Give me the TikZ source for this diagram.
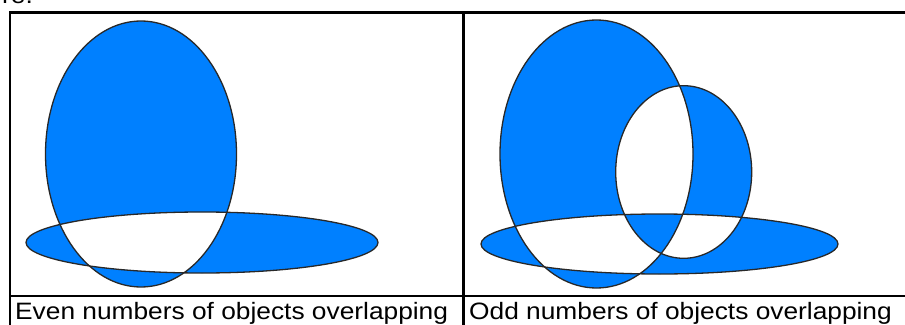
\documentclass[tikz,border=0pt]{standalone}
\usepackage{fontspec}
\setmainfont{Liberation Sans}
\usepackage{graphicx}
\definecolor{fillblue}{RGB}{0,128,255}
\definecolor{edge}{RGB}{40,40,40}
\tikzset{
  tableline/.style={line width=2.5pt, black},
  shapeline/.style={line width=1.3pt, edge},
  caption/.style={anchor=base west, inner sep=0pt, font=\fontsize{23.7}{28}\selectfont}
}
\begin{document}
\begin{tikzpicture}[x=1pt,y=-1pt]
\useasboundingbox (0,0) rectangle (905,324);
% partial text from above, clipped by the page
\node[caption] (prev) at (2,4) {\scalebox{1.11}[1]{re.}};
% left cell shapes
\fill[fillblue, even odd rule] (141,154) ellipse [x radius=95.5, y radius=133]
  (202,242.5) ellipse [x radius=176, y radius=30.5];
\draw[shapeline] (141,154) ellipse [x radius=95.5, y radius=133];
\draw[shapeline] (202,242.5) ellipse [x radius=176, y radius=30.5];
% right cell shapes
\fill[fillblue, even odd rule] (596.5,154) ellipse [x radius=96.5, y radius=134]
  (659.5,244) ellipse [x radius=178.5, y radius=30]
  (683.7,172) ellipse [x radius=68, y radius=86.3];
\draw[shapeline] (596.5,154) ellipse [x radius=96.5, y radius=134];
\draw[shapeline] (659.5,244) ellipse [x radius=178.5, y radius=30];
\draw[shapeline] (683.7,172) ellipse [x radius=68, y radius=86.3];
% table
\draw[tableline] (10,330) -- (10,12.5) -- (915,12.5);
\draw[tableline] (463.5,12.5) -- (463.5,330);
\draw[tableline] (10,296) -- (915,296);
% captions
\node[caption] (even) at (15,319) {\scalebox{1.11}[1]{Even numbers of objects overlapping}};
\node[caption] (odd) at (469,319) {\scalebox{1.11}[1]{Odd numbers of objects overlapping}};
\end{tikzpicture}
\end{document}
